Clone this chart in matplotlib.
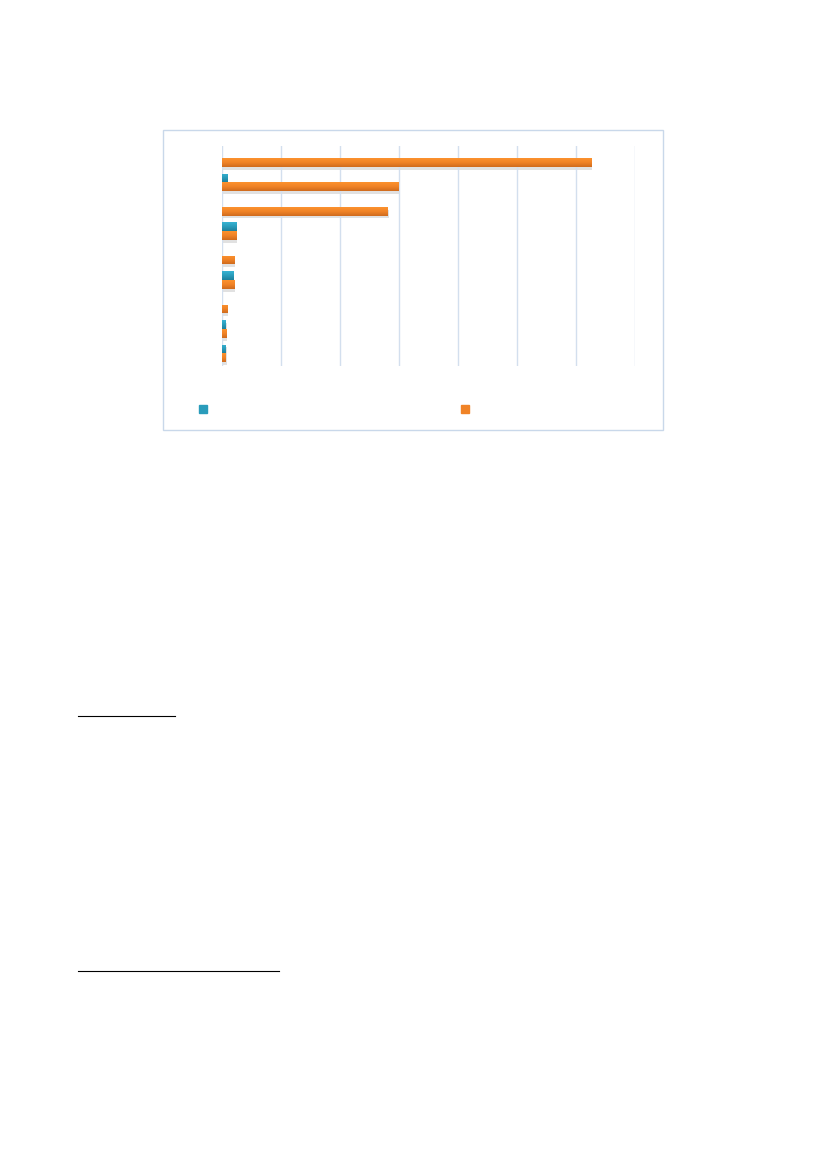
import numpy as np
import matplotlib.pyplot as plt
import matplotlib.patheffects as pe
from matplotlib.colors import LinearSegmentedColormap
from matplotlib.lines import Line2D
from matplotlib.patches import Rectangle

# categories listed top to bottom (labels are blank in the source picture)
categories = ["", "", "", "", "", "", "", "", ""]
seriesA = [0.0, 0.09, 0.0, 0.24, 0.0, 0.19, 0.0, 0.06, 0.06]   # teal
seriesB = [6.25, 2.99, 2.8, 0.24, 0.21, 0.21, 0.09, 0.07, 0.06]  # orange
xTicks = [0, 1, 2, 3, 4, 5, 6, 7]

tealMap = LinearSegmentedColormap.from_list("teal", ["#37b3d3", "#2a9cbb", "#1d7f9b"])
orangeMap = LinearSegmentedColormap.from_list("orange", ["#fc922e", "#f08327", "#cf6b1e"])


def paintGradient(ax, bars, cmap):
    grad = np.linspace(0, 1, 64).reshape(-1, 1)
    for bar in bars:
        w = bar.get_width()
        if w <= 0:
            bar.set_visible(False)
            continue
        x0, y0 = bar.get_x(), bar.get_y()
        h = bar.get_height()
        bar.set_facecolor("none")
        bar.set_edgecolor("none")
        # soft shadow under the bar
        shadow = Rectangle((x0, y0), w, h, facecolor="none", edgecolor="none",
                           path_effects=[pe.SimplePatchShadow(offset=(1, -2), shadow_rgbFace="#888888", alpha=0.25),
                                         pe.Normal()])
        ax.add_patch(shadow)
        im = ax.imshow(grad, cmap=cmap, aspect="auto", extent=(x0, x0 + w, y0 + h, y0),
                       zorder=3, interpolation="bilinear")
        im.set_clip_path(bar)


fig = plt.figure(figsize=(8.27, 11.69), dpi=100)

# chart frame
fig.patches.append(Rectangle((163 / 827, 1 - 430 / 1169), 500 / 827, 300 / 1169,
                             transform=fig.transFigure, facecolor="none",
                             edgecolor="#c9d8ea", linewidth=1.0))

ax = fig.add_axes([221.7 / 827, 1 - 365.7 / 1169, (635.3 - 221.7) / 827, 220 / 1169])

y = np.arange(len(categories))
h = 0.36
barsA = ax.barh(y - h / 2, seriesA, height=h, color="#2a9cbb", zorder=3)
barsB = ax.barh(y + h / 2, seriesB, height=h, color="#f08327", zorder=3)
ax.set_ylim(len(categories) - 0.5, -0.5)
ax.set_xlim(xTicks[0], xTicks[-1])
ax.set_xticks(xTicks)
ax.set_yticks(y)
ax.set_xticklabels([])
ax.set_yticklabels(categories)
ax.tick_params(length=0)
ax.grid(axis="x", color="#d3dfee", linewidth=1.0, zorder=0)
for s in ax.spines.values():
    s.set_visible(False)

paintGradient(ax, barsB, orangeMap)
paintGradient(ax, barsA, tealMap)

# legend markers (labels blank in the source)
handles = [Line2D([], [], marker="s", linestyle="none", markersize=6,
                  markerfacecolor="#2a9cbb", markeredgecolor="#2a9cbb"),
           Line2D([], [], marker="s", linestyle="none", markersize=6,
                  markerfacecolor="#f08327", markeredgecolor="#f08327")]
fig.legend(handles, ["", ""], ncol=2, frameon=False, loc="center left",
           bbox_to_anchor=(196 / 827, 1 - 410 / 1169), columnspacing=17.9,
           handletextpad=0.0, handlelength=1.0, borderaxespad=0, borderpad=0)

# footnote separator lines on the page
fig.add_artist(Line2D([78 / 827, 175 / 827], [1 - 716 / 1169] * 2, color="black", linewidth=0.8))
fig.add_artist(Line2D([78 / 827, 279 / 827], [1 - 971 / 1169] * 2, color="black", linewidth=0.8))

fig.savefig("out.png", dpi=100)
